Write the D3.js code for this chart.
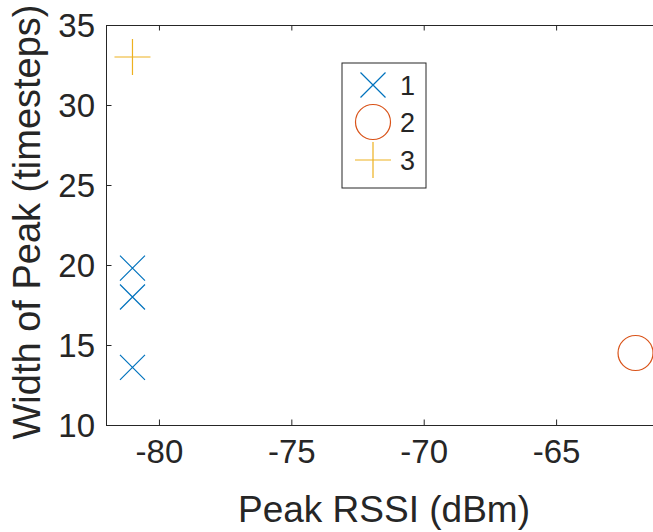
<!DOCTYPE html>
<html>
<head>
<meta charset="utf-8">
<script src="https://cdn.jsdelivr.net/npm/d3@7"></script>
<style>
  html, body { margin: 0; padding: 0; background: #fff; overflow: hidden; }
  svg { display: block; }
  text { font-family: "Liberation Sans", Arial, Helvetica, sans-serif; fill: #262626; }
</style>
</head>
<body>
<svg id="chart" width="653" height="532"></svg>
<script>
// Peak width vs. peak RSSI, three clusters
const series1X = [-81, -81, -81];
const series1Y = [19.8, 18.0, 13.6];
const series2X = [-62];
const series2Y = [14.5];
const series3X = [-81];
const series3Y = [33];

const seriesNames = ["1", "2", "3"];
const xTicks = [-80, -75, -70, -65];
const yTicks = [10, 15, 20, 25, 30, 35];
const xDomain = [-82, -61];
const yDomain = [10, 35];

const colors = ["#0072BD", "#D95319", "#EDB120"];
const axisColor = "#262626";

const svg = d3.select("#chart");
const box = { left: 106, right: 662, top: 25, bottom: 425 };

const x = d3.scaleLinear().domain(xDomain).range([box.left, box.right]);
const y = d3.scaleLinear().domain(yDomain).range([box.bottom, box.top]);

const tickLen = 5.5;
const tickFont = 33;
const labelFont = 37;
const plainNum = d => String(d);   // ASCII hyphen for negatives

// Axes: bottom + left with labels, top + right mirrored ticks
const gx = svg.append("g").attr("transform", `translate(0,${box.bottom})`)
  .call(d3.axisBottom(x).tickValues(xTicks).tickSizeInner(-tickLen).tickSizeOuter(0)
    .tickPadding(15).tickFormat(plainNum));
const gy = svg.append("g").attr("transform", `translate(${box.left},0)`)
  .call(d3.axisLeft(y).tickValues(yTicks).tickSizeInner(-tickLen).tickSizeOuter(0)
    .tickPadding(11).tickFormat(plainNum));
const gxt = svg.append("g").attr("transform", `translate(0,${box.top})`)
  .call(d3.axisTop(x).tickValues(xTicks).tickSizeInner(-tickLen).tickSizeOuter(0).tickFormat(""));
const gyr = svg.append("g").attr("transform", `translate(${box.right},0)`)
  .call(d3.axisRight(y).tickValues(yTicks).tickSizeInner(-tickLen).tickSizeOuter(0).tickFormat(""));

[gx, gy, gxt, gyr].forEach(g => {
  g.select(".domain").attr("stroke", axisColor).attr("stroke-width", 1);
  g.selectAll(".tick line").attr("stroke", axisColor).attr("stroke-width", 1);
  g.selectAll(".tick text").attr("fill", axisColor)
    .style("font-size", tickFont + "px")
    .style("font-family", "'Liberation Sans', Arial, sans-serif");
});
gy.selectAll(".tick text").attr("dy", "0.36em");

// Axis titles
svg.append("text")
  .attr("x", (box.left + box.right) / 2)
  .attr("y", 522)
  .attr("text-anchor", "middle")
  .style("font-size", labelFont + "px")
  .text("Peak RSSI (dBm)");

svg.append("text")
  .attr("transform", `translate(40,${(box.top + box.bottom) / 2 - 3}) rotate(-90)`)
  .attr("text-anchor", "middle")
  .style("font-size", (labelFont + 1) + "px")
  .text("Width of Peak (timesteps)");

// Marker shapes
const markerStroke = 1.2;
function drawMarker(g, kind, cx, cy, color) {
  if (kind === "x") {
    const h = 12.5;
    g.append("path")
      .attr("d", `M${cx - h},${cy - h}L${cx + h},${cy + h}M${cx - h},${cy + h}L${cx + h},${cy - h}`)
      .attr("stroke", color).attr("stroke-width", markerStroke).attr("fill", "none");
  } else if (kind === "o") {
    g.append("circle").attr("cx", cx).attr("cy", cy).attr("r", 17.5)
      .attr("stroke", color).attr("stroke-width", markerStroke).attr("fill", "none");
  } else {
    const h = 18;
    g.append("path")
      .attr("d", `M${cx - h},${cy}L${cx + h},${cy}M${cx},${cy - h}L${cx},${cy + h}`)
      .attr("stroke", color).attr("stroke-width", markerStroke).attr("fill", "none");
  }
}

const plotG = svg.append("g");
const seriesList = [
  { xs: series1X, ys: series1Y, kind: "x", color: colors[0] },
  { xs: series2X, ys: series2Y, kind: "o", color: colors[1] },
  { xs: series3X, ys: series3Y, kind: "+", color: colors[2] }
];
seriesList.forEach(s => {
  s.xs.forEach((v, i) => drawMarker(plotG, s.kind, x(v), y(s.ys[i]), s.color));
});

// Legend
const legend = svg.append("g");
const lg = { x: 342, y: 63, w: 84, h: 125 };
legend.append("rect")
  .attr("x", lg.x).attr("y", lg.y).attr("width", lg.w).attr("height", lg.h)
  .attr("fill", "#fff").attr("stroke", axisColor).attr("stroke-width", 1);
const rowY = [85, 122, 160];
seriesList.forEach((s, i) => {
  drawMarker(legend, s.kind, 373, rowY[i], s.color);
  legend.append("text")
    .attr("x", 400).attr("y", rowY[i])
    .attr("dy", "0.36em")
    .style("font-size", "27px")
    .text(seriesNames[i]);
});
</script>
</body>
</html>
